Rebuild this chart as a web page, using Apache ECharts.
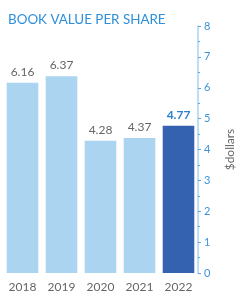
<!DOCTYPE html>
<html><head><meta charset="utf-8">
<script src="https://cdn.jsdelivr.net/npm/echarts@6/dist/echarts.min.js"></script>
<style>html,body{margin:0;padding:0;background:#fff}#c{width:244px;height:300px}</style>
</head><body><div id="c"></div>
<script>
const categories = ['2018','2019','2020','2021','2022'];
const values = [6.16, 6.37, 4.28, 4.37, 4.77];
const highlightIndex = 4;
const yTicks = [0,1,2,3,4,5,6,7,8];

const chart = echarts.init(document.getElementById('c'));
chart.setOption({
  animation:false,
  title:{text:'BOOK VALUE PER SHARE',left:3,top:8,textStyle:{fontFamily:'Lato',fontSize:13.4,fontWeight:'normal',color:'#2e8fdb'}},
  grid:{left:3,right:37,top:26,bottom:27},
  xAxis:{type:'category',data:categories,axisLine:{show:false},axisTick:{show:false},
    axisLabel:{color:'#666',fontFamily:'Lato',fontSize:12,margin:8}},
  yAxis:{type:'value',position:'right',min:yTicks[0],max:yTicks[yTicks.length-1],interval:1,
    name:'$dollars',nameLocation:'middle',nameGap:26,nameRotate:90,
    nameTextStyle:{color:'#666',fontFamily:'Lato',fontSize:12},
    axisLine:{show:true,lineStyle:{color:'#a9d3f0',width:1.5}},
    axisTick:{show:true,length:3,lineStyle:{color:'#5aa6e0'}},
    minorTick:{show:true,splitNumber:2,length:2,lineStyle:{color:'#5aa6e0'}},
    splitLine:{show:false},
    axisLabel:{color:'#3a93dc',fontFamily:'Lato',fontSize:11,margin:6}},
  series:[{type:'bar',barCategoryGap:'19%',
    data:values.map((v,i)=>({value:v,itemStyle:{color:i===highlightIndex?'#3461b0':'#abd4f1'},
      label:i===highlightIndex?{color:'#2a80d2',fontWeight:'bold'}:{}})),
    label:{show:true,position:'top',distance:5,color:'#666',fontFamily:'Lato',fontSize:12,
      formatter:p=>p.value.toFixed(2)}}]
});
</script></body></html>
